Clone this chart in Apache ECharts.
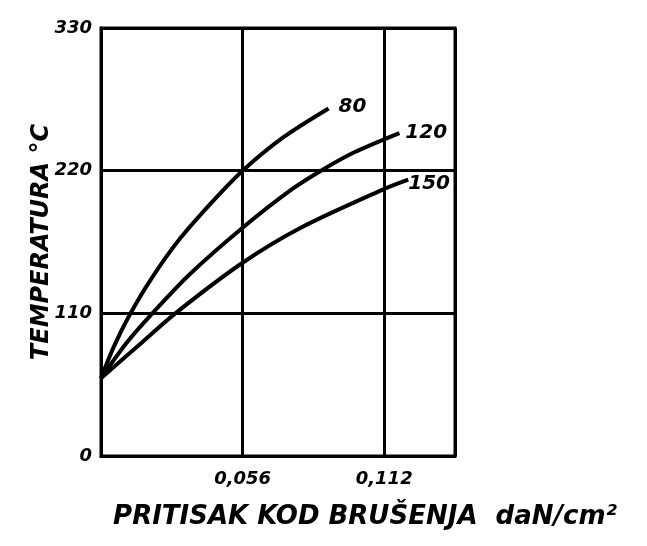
<!DOCTYPE html>
<html>
<head>
<meta charset="utf-8">
<script src="https://cdn.jsdelivr.net/npm/echarts@6/dist/echarts.min.js"></script>
<style>html,body{margin:0;padding:0;background:#fff}#c{width:647px;height:546px}</style>
</head>
<body>
<div id="c"></div>
<script>
const seriesNames = ['80', '120', '150'];
const curve80x  = [0, 0.005, 0.0111, 0.020, 0.0314, 0.044, 0.056, 0.0723, 0.090];
const curve80y  = [60, 84, 108, 137, 168, 196, 220, 246, 268];
const curve120x = [0, 0.010, 0.0203, 0.035, 0.056, 0.075, 0.087, 0.100, 0.118];
const curve120y = [60, 87, 110, 140, 176, 205, 220, 234, 249];
const curve150x = [0, 0.0147, 0.0294, 0.056, 0.079, 0.111, 0.1215];
const curve150y = [60, 85, 110, 149, 176, 205, 213];
const yTicks = [0, 110, 220, 330];
const xTickLabels = ['0,056', '0,112'];

const font = 'DejaVu Sans';
function pairs(xs, ys) { return xs.map((x, i) => [x, ys[i]]); }
const allData = [pairs(curve80x, curve80y), pairs(curve120x, curve120y), pairs(curve150x, curve150y)];
const labelOffsets = [[4, -2], [0, 0], [-6, 4]];

const chart = echarts.init(document.getElementById('c'));
chart.setOption({
  backgroundColor: '#fff',
  animation: false,
  grid: { left: 101, right: 192, top: 28, bottom: 90, show: true, borderColor: '#000', borderWidth: 3 },
  xAxis: {
    type: 'value', min: 0, max: 0.14, interval: 0.056,
    name: 'PRITISAK KOD BRUŠENJA  daN/cm²',
    nameLocation: 'middle', nameGap: 48,
    nameTextStyle: { fontFamily: font, fontStyle: 'italic', fontWeight: 'bold', fontSize: 26, color: '#000', padding: [0, 0, 0, 174] },
    axisLine: { show: true, lineStyle: { color: '#000', width: 3 } },
    axisTick: { show: false },
    splitLine: { show: true, lineStyle: { color: '#000', width: 3 } },
    axisLabel: {
      margin: 14, showMaxLabel: false,
      fontFamily: font, fontStyle: 'italic', fontWeight: 'bold', fontSize: 18, color: '#000',
      formatter: function (v) {
        const k = Math.round(v / 0.056);
        if (k >= 1 && k <= xTickLabels.length && Math.abs(v - k * 0.056) < 1e-6) return xTickLabels[k - 1];
        return '';
      }
    }
  },
  yAxis: {
    type: 'value', min: yTicks[0], max: yTicks[yTicks.length - 1], interval: 110,
    name: 'TEMPERATURA °C',
    nameLocation: 'middle', nameGap: 47, nameRotate: 90, nameMoveOverlap: false,
    nameTextStyle: { fontFamily: font, fontStyle: 'italic', fontWeight: 'bold', fontSize: 24, color: '#000' },
    axisLine: { show: true, lineStyle: { color: '#000', width: 3 } },
    axisTick: { show: false },
    splitLine: { show: true, lineStyle: { color: '#000', width: 3 } },
    axisLabel: { margin: 9, fontFamily: font, fontStyle: 'italic', fontWeight: 'bold', fontSize: 18, color: '#000' }
  },
  series: allData.map((d, i) => ({
    name: seriesNames[i],
    type: 'line',
    data: d,
    smooth: 0.3,
    showSymbol: false,
    lineStyle: { color: '#000', width: 4 },
    endLabel: {
      show: true, formatter: '{a}', offset: labelOffsets[i], distance: 6,
      fontFamily: font, fontStyle: 'italic', fontWeight: 'bold', fontSize: 20, color: '#000'
    }
  }))
});
</script>
</body>
</html>
